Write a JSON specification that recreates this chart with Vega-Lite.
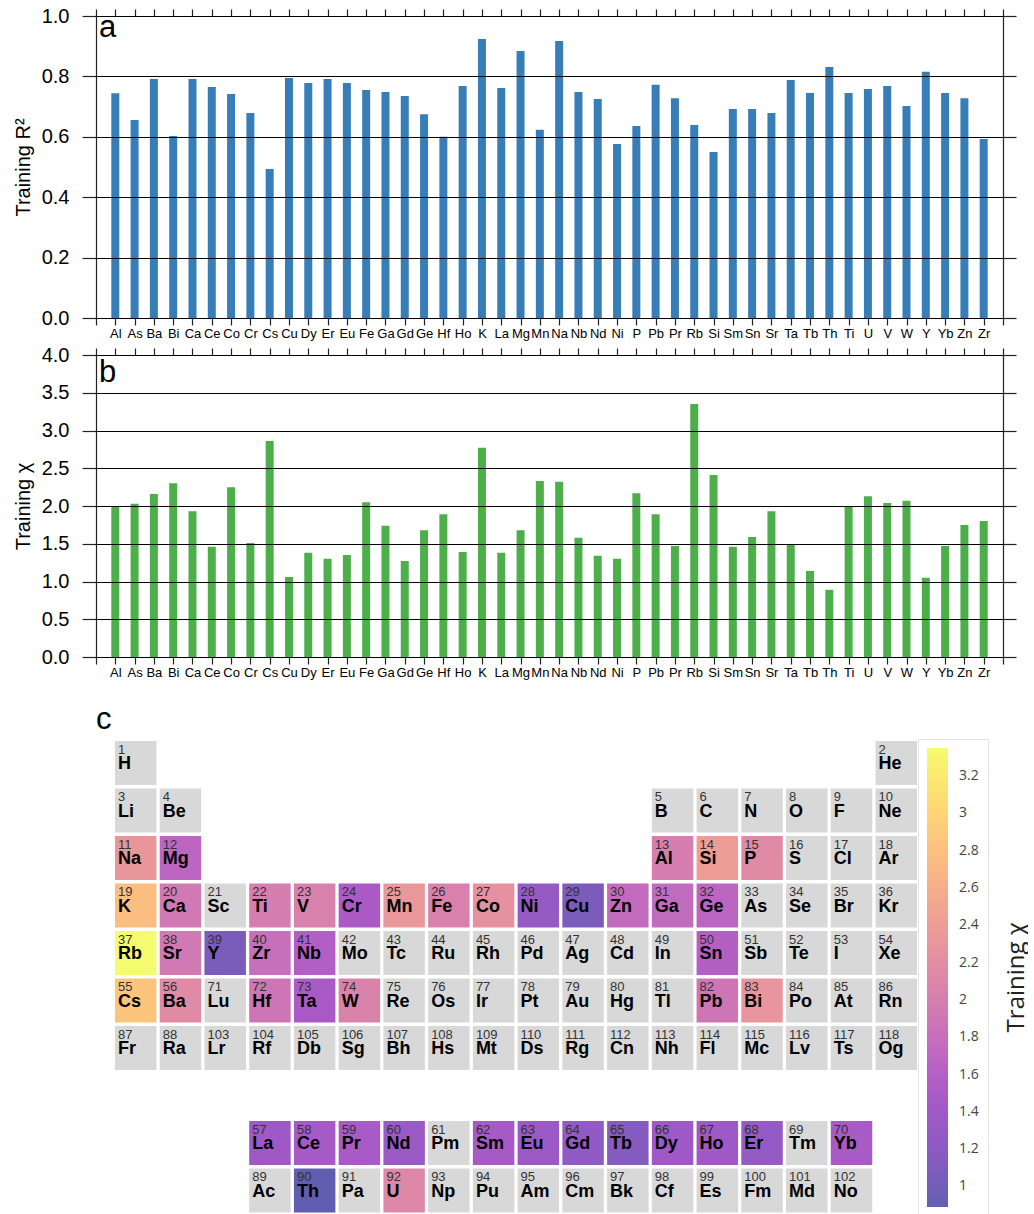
{
  "$schema": "https://vega.github.io/schema/vega-lite/v6.json",
  "background": "white",
  "padding": {"left": 13, "top": 6, "right": 0, "bottom": 0},
  "autosize": {"type": "pad"},
  "spacing": 5,
  "config": {"view": {"stroke": null}, "font": "Liberation Sans"},
  "datasets": {
    "elements": [
      {"el": "Al", "r2": 0.744, "chi": 2.00},
      {"el": "As", "r2": 0.656, "chi": 2.03},
      {"el": "Ba", "r2": 0.791, "chi": 2.16},
      {"el": "Bi", "r2": 0.603, "chi": 2.30},
      {"el": "Ca", "r2": 0.791, "chi": 1.93},
      {"el": "Ce", "r2": 0.765, "chi": 1.46},
      {"el": "Co", "r2": 0.742, "chi": 2.25},
      {"el": "Cr", "r2": 0.679, "chi": 1.51},
      {"el": "Cs", "r2": 0.493, "chi": 2.86},
      {"el": "Cu", "r2": 0.795, "chi": 1.06},
      {"el": "Dy", "r2": 0.778, "chi": 1.38},
      {"el": "Er", "r2": 0.791, "chi": 1.30},
      {"el": "Eu", "r2": 0.778, "chi": 1.35},
      {"el": "Fe", "r2": 0.755, "chi": 2.05},
      {"el": "Ga", "r2": 0.748, "chi": 1.74},
      {"el": "Gd", "r2": 0.735, "chi": 1.27},
      {"el": "Ge", "r2": 0.675, "chi": 1.68},
      {"el": "Hf", "r2": 0.600, "chi": 1.89},
      {"el": "Ho", "r2": 0.768, "chi": 1.39},
      {"el": "K", "r2": 0.924, "chi": 2.77},
      {"el": "La", "r2": 0.762, "chi": 1.38},
      {"el": "Mg", "r2": 0.884, "chi": 1.68},
      {"el": "Mn", "r2": 0.623, "chi": 2.33},
      {"el": "Na", "r2": 0.917, "chi": 2.32},
      {"el": "Nb", "r2": 0.748, "chi": 1.58},
      {"el": "Nd", "r2": 0.725, "chi": 1.34},
      {"el": "Ni", "r2": 0.576, "chi": 1.30},
      {"el": "P", "r2": 0.636, "chi": 2.17},
      {"el": "Pb", "r2": 0.772, "chi": 1.89},
      {"el": "Pr", "r2": 0.728, "chi": 1.47},
      {"el": "Rb", "r2": 0.639, "chi": 3.35},
      {"el": "Si", "r2": 0.550, "chi": 2.41},
      {"el": "Sm", "r2": 0.692, "chi": 1.46},
      {"el": "Sn", "r2": 0.692, "chi": 1.59},
      {"el": "Sr", "r2": 0.679, "chi": 1.93},
      {"el": "Ta", "r2": 0.788, "chi": 1.49},
      {"el": "Tb", "r2": 0.745, "chi": 1.14},
      {"el": "Th", "r2": 0.831, "chi": 0.89},
      {"el": "Ti", "r2": 0.745, "chi": 2.00},
      {"el": "U", "r2": 0.758, "chi": 2.13},
      {"el": "V", "r2": 0.768, "chi": 2.04},
      {"el": "W", "r2": 0.702, "chi": 2.07},
      {"el": "Y", "r2": 0.815, "chi": 1.05},
      {"el": "Yb", "r2": 0.745, "chi": 1.47},
      {"el": "Zn", "r2": 0.728, "chi": 1.75},
      {"el": "Zr", "r2": 0.593, "chi": 1.80}
    ],
    "ptable": [
      {"z": 1, "s": "H", "g": 1, "p": 1},
      {"z": 2, "s": "He", "g": 18, "p": 1},
      {"z": 3, "s": "Li", "g": 1, "p": 2},
      {"z": 4, "s": "Be", "g": 2, "p": 2},
      {"z": 5, "s": "B", "g": 13, "p": 2},
      {"z": 6, "s": "C", "g": 14, "p": 2},
      {"z": 7, "s": "N", "g": 15, "p": 2},
      {"z": 8, "s": "O", "g": 16, "p": 2},
      {"z": 9, "s": "F", "g": 17, "p": 2},
      {"z": 10, "s": "Ne", "g": 18, "p": 2},
      {"z": 11, "s": "Na", "g": 1, "p": 3, "chi": 2.32},
      {"z": 12, "s": "Mg", "g": 2, "p": 3, "chi": 1.68},
      {"z": 13, "s": "Al", "g": 13, "p": 3, "chi": 2.00},
      {"z": 14, "s": "Si", "g": 14, "p": 3, "chi": 2.41},
      {"z": 15, "s": "P", "g": 15, "p": 3, "chi": 2.17},
      {"z": 16, "s": "S", "g": 16, "p": 3},
      {"z": 17, "s": "Cl", "g": 17, "p": 3},
      {"z": 18, "s": "Ar", "g": 18, "p": 3},
      {"z": 19, "s": "K", "g": 1, "p": 4, "chi": 2.77},
      {"z": 20, "s": "Ca", "g": 2, "p": 4, "chi": 1.93},
      {"z": 21, "s": "Sc", "g": 3, "p": 4},
      {"z": 22, "s": "Ti", "g": 4, "p": 4, "chi": 2.00},
      {"z": 23, "s": "V", "g": 5, "p": 4, "chi": 2.04},
      {"z": 24, "s": "Cr", "g": 6, "p": 4, "chi": 1.51},
      {"z": 25, "s": "Mn", "g": 7, "p": 4, "chi": 2.33},
      {"z": 26, "s": "Fe", "g": 8, "p": 4, "chi": 2.05},
      {"z": 27, "s": "Co", "g": 9, "p": 4, "chi": 2.25},
      {"z": 28, "s": "Ni", "g": 10, "p": 4, "chi": 1.30},
      {"z": 29, "s": "Cu", "g": 11, "p": 4, "chi": 1.06},
      {"z": 30, "s": "Zn", "g": 12, "p": 4, "chi": 1.75},
      {"z": 31, "s": "Ga", "g": 13, "p": 4, "chi": 1.74},
      {"z": 32, "s": "Ge", "g": 14, "p": 4, "chi": 1.68},
      {"z": 33, "s": "As", "g": 15, "p": 4},
      {"z": 34, "s": "Se", "g": 16, "p": 4},
      {"z": 35, "s": "Br", "g": 17, "p": 4},
      {"z": 36, "s": "Kr", "g": 18, "p": 4},
      {"z": 37, "s": "Rb", "g": 1, "p": 5, "chi": 3.35},
      {"z": 38, "s": "Sr", "g": 2, "p": 5, "chi": 1.93},
      {"z": 39, "s": "Y", "g": 3, "p": 5, "chi": 1.05},
      {"z": 40, "s": "Zr", "g": 4, "p": 5, "chi": 1.80},
      {"z": 41, "s": "Nb", "g": 5, "p": 5, "chi": 1.58},
      {"z": 42, "s": "Mo", "g": 6, "p": 5},
      {"z": 43, "s": "Tc", "g": 7, "p": 5},
      {"z": 44, "s": "Ru", "g": 8, "p": 5},
      {"z": 45, "s": "Rh", "g": 9, "p": 5},
      {"z": 46, "s": "Pd", "g": 10, "p": 5},
      {"z": 47, "s": "Ag", "g": 11, "p": 5},
      {"z": 48, "s": "Cd", "g": 12, "p": 5},
      {"z": 49, "s": "In", "g": 13, "p": 5},
      {"z": 50, "s": "Sn", "g": 14, "p": 5, "chi": 1.59},
      {"z": 51, "s": "Sb", "g": 15, "p": 5},
      {"z": 52, "s": "Te", "g": 16, "p": 5},
      {"z": 53, "s": "I", "g": 17, "p": 5},
      {"z": 54, "s": "Xe", "g": 18, "p": 5},
      {"z": 55, "s": "Cs", "g": 1, "p": 6, "chi": 2.86},
      {"z": 56, "s": "Ba", "g": 2, "p": 6, "chi": 2.16},
      {"z": 71, "s": "Lu", "g": 3, "p": 6},
      {"z": 72, "s": "Hf", "g": 4, "p": 6, "chi": 1.89},
      {"z": 73, "s": "Ta", "g": 5, "p": 6, "chi": 1.49},
      {"z": 74, "s": "W", "g": 6, "p": 6, "chi": 2.07},
      {"z": 75, "s": "Re", "g": 7, "p": 6},
      {"z": 76, "s": "Os", "g": 8, "p": 6},
      {"z": 77, "s": "Ir", "g": 9, "p": 6},
      {"z": 78, "s": "Pt", "g": 10, "p": 6},
      {"z": 79, "s": "Au", "g": 11, "p": 6},
      {"z": 80, "s": "Hg", "g": 12, "p": 6},
      {"z": 81, "s": "Tl", "g": 13, "p": 6},
      {"z": 82, "s": "Pb", "g": 14, "p": 6, "chi": 1.89},
      {"z": 83, "s": "Bi", "g": 15, "p": 6, "chi": 2.30},
      {"z": 84, "s": "Po", "g": 16, "p": 6},
      {"z": 85, "s": "At", "g": 17, "p": 6},
      {"z": 86, "s": "Rn", "g": 18, "p": 6},
      {"z": 87, "s": "Fr", "g": 1, "p": 7},
      {"z": 88, "s": "Ra", "g": 2, "p": 7},
      {"z": 103, "s": "Lr", "g": 3, "p": 7},
      {"z": 104, "s": "Rf", "g": 4, "p": 7},
      {"z": 105, "s": "Db", "g": 5, "p": 7},
      {"z": 106, "s": "Sg", "g": 6, "p": 7},
      {"z": 107, "s": "Bh", "g": 7, "p": 7},
      {"z": 108, "s": "Hs", "g": 8, "p": 7},
      {"z": 109, "s": "Mt", "g": 9, "p": 7},
      {"z": 110, "s": "Ds", "g": 10, "p": 7},
      {"z": 111, "s": "Rg", "g": 11, "p": 7},
      {"z": 112, "s": "Cn", "g": 12, "p": 7},
      {"z": 113, "s": "Nh", "g": 13, "p": 7},
      {"z": 114, "s": "Fl", "g": 14, "p": 7},
      {"z": 115, "s": "Mc", "g": 15, "p": 7},
      {"z": 116, "s": "Lv", "g": 16, "p": 7},
      {"z": 117, "s": "Ts", "g": 17, "p": 7},
      {"z": 118, "s": "Og", "g": 18, "p": 7},
      {"z": 57, "s": "La", "g": 4, "p": 9, "chi": 1.38},
      {"z": 58, "s": "Ce", "g": 5, "p": 9, "chi": 1.46},
      {"z": 59, "s": "Pr", "g": 6, "p": 9, "chi": 1.47},
      {"z": 60, "s": "Nd", "g": 7, "p": 9, "chi": 1.34},
      {"z": 61, "s": "Pm", "g": 8, "p": 9},
      {"z": 62, "s": "Sm", "g": 9, "p": 9, "chi": 1.46},
      {"z": 63, "s": "Eu", "g": 10, "p": 9, "chi": 1.35},
      {"z": 64, "s": "Gd", "g": 11, "p": 9, "chi": 1.27},
      {"z": 65, "s": "Tb", "g": 12, "p": 9, "chi": 1.14},
      {"z": 66, "s": "Dy", "g": 13, "p": 9, "chi": 1.38},
      {"z": 67, "s": "Ho", "g": 14, "p": 9, "chi": 1.39},
      {"z": 68, "s": "Er", "g": 15, "p": 9, "chi": 1.30},
      {"z": 69, "s": "Tm", "g": 16, "p": 9},
      {"z": 70, "s": "Yb", "g": 17, "p": 9, "chi": 1.47},
      {"z": 89, "s": "Ac", "g": 4, "p": 10},
      {"z": 90, "s": "Th", "g": 5, "p": 10, "chi": 0.89},
      {"z": 91, "s": "Pa", "g": 6, "p": 10},
      {"z": 92, "s": "U", "g": 7, "p": 10, "chi": 2.13},
      {"z": 93, "s": "Np", "g": 8, "p": 10},
      {"z": 94, "s": "Pu", "g": 9, "p": 10},
      {"z": 95, "s": "Am", "g": 10, "p": 10},
      {"z": 96, "s": "Cm", "g": 11, "p": 10},
      {"z": 97, "s": "Bk", "g": 12, "p": 10},
      {"z": 98, "s": "Cf", "g": 13, "p": 10},
      {"z": 99, "s": "Es", "g": 14, "p": 10},
      {"z": 100, "s": "Fm", "g": 15, "p": 10},
      {"z": 101, "s": "Md", "g": 16, "p": 10},
      {"z": 102, "s": "No", "g": 17, "p": 10}
    ]
  },
  "vconcat": [
    {
      "width": 907,
      "height": 302,
      "data": {"name": "elements"},
      "layer": [
        {
          "mark": {"type": "bar", "width": 8, "color": "#377eb8"},
          "encoding": {
            "x": {
              "field": "el", "type": "ordinal", "sort": null,
              "scale": {"type": "point", "padding": 0, "domain": [" ", "Al","As","Ba","Bi","Ca","Ce","Co","Cr","Cs","Cu","Dy","Er","Eu","Fe","Ga","Gd","Ge","Hf","Ho","K","La","Mg","Mn","Na","Nb","Nd","Ni","P","Pb","Pr","Rb","Si","Sm","Sn","Sr","Ta","Tb","Th","Ti","U","V","W","Y","Yb","Zn","Zr", "  "]},
              "axis": {"orient": "bottom", "title": null, "labelAngle": 0, "labelFontSize": 13, "labelColor": "#000", "labelPadding": 2, "labelOverlap": false, "tickSize": 7, "tickColor": "#222", "tickWidth": 1.2, "domainColor": "#222", "domainWidth": 1.2, "grid": false}
            },
            "y": {
              "field": "r2", "type": "quantitative",
              "scale": {"domain": [0, 1], "nice": false},
              "axis": {"orient": "left", "title": "Training R²", "values": [0, 0.2, 0.4, 0.6, 0.8, 1.0], "format": ".1f", "zindex": 1, "grid": true, "gridColor": "#000", "gridWidth": 1, "gridOpacity": 1, "tickSize": 14, "tickColor": "#222", "tickWidth": 1.2, "domainColor": "#222", "domainWidth": 1.2, "labelFontSize": 20, "labelPadding": 13, "labelColor": "#000", "titleFontSize": 20, "titleFontWeight": "normal", "titleColor": "#000", "titlePadding": 8}
            }
          }
        },
        {
          "data": {"values": [{}]},
          "mark": {"type": "text", "text": "a", "align": "left", "baseline": "alphabetic", "dx": 3, "dy": 21, "fontSize": 31, "color": "#000"},
          "encoding": {
            "x": {"datum": " ", "type": "ordinal", "axis": {"orient": "top", "title": null, "labels": false, "tickSize": 7, "tickColor": "#222", "tickWidth": 1.2, "domainColor": "#222", "domainWidth": 1.2, "grid": false}},
            "y": {"datum": 1, "type": "quantitative", "axis": {"orient": "right", "title": null, "labels": false, "values": [0, 0.2, 0.4, 0.6, 0.8, 1.0], "tickSize": 13, "tickColor": "#222", "tickWidth": 1.2, "domainColor": "#222", "domainWidth": 1.2, "grid": false}}
          }
        }
      ],
      "resolve": {"axis": {"x": "independent", "y": "independent"}}
    },
    {
      "width": 907,
      "height": 302,
      "data": {"name": "elements"},
      "layer": [
        {
          "mark": {"type": "bar", "width": 8, "color": "#4daf4a"},
          "encoding": {
            "x": {
              "field": "el", "type": "ordinal", "sort": null,
              "scale": {"type": "point", "padding": 0, "domain": [" ", "Al","As","Ba","Bi","Ca","Ce","Co","Cr","Cs","Cu","Dy","Er","Eu","Fe","Ga","Gd","Ge","Hf","Ho","K","La","Mg","Mn","Na","Nb","Nd","Ni","P","Pb","Pr","Rb","Si","Sm","Sn","Sr","Ta","Tb","Th","Ti","U","V","W","Y","Yb","Zn","Zr", "  "]},
              "axis": {"orient": "bottom", "title": null, "labelAngle": 0, "labelFontSize": 13, "labelColor": "#000", "labelPadding": 2, "labelOverlap": false, "tickSize": 7, "tickColor": "#222", "tickWidth": 1.2, "domainColor": "#222", "domainWidth": 1.2, "grid": false}
            },
            "y": {
              "field": "chi", "type": "quantitative",
              "scale": {"domain": [0, 4], "nice": false},
              "axis": {"orient": "left", "title": "Training χ", "values": [0, 0.5, 1.0, 1.5, 2.0, 2.5, 3.0, 3.5, 4.0], "format": ".1f", "zindex": 1, "grid": true, "gridColor": "#000", "gridWidth": 1, "gridOpacity": 1, "tickSize": 14, "tickColor": "#222", "tickWidth": 1.2, "domainColor": "#222", "domainWidth": 1.2, "labelFontSize": 20, "labelPadding": 13, "labelColor": "#000", "titleFontSize": 20, "titleFontWeight": "normal", "titleColor": "#000", "titlePadding": 8}
            }
          }
        },
        {
          "data": {"values": [{}]},
          "mark": {"type": "text", "text": "b", "align": "left", "baseline": "alphabetic", "dx": 3, "dy": 27, "fontSize": 31, "color": "#000"},
          "encoding": {
            "x": {"datum": " ", "type": "ordinal", "axis": {"orient": "top", "title": null, "labels": false, "tickSize": 7, "tickColor": "#222", "tickWidth": 1.2, "domainColor": "#222", "domainWidth": 1.2, "grid": false}},
            "y": {"datum": 4, "type": "quantitative", "axis": {"orient": "right", "title": null, "labels": false, "values": [0, 0.5, 1.0, 1.5, 2.0, 2.5, 3.0, 3.5, 4.0], "tickSize": 13, "tickColor": "#222", "tickWidth": 1.2, "domainColor": "#222", "domainWidth": 1.2, "grid": false}}
          }
        }
      ],
      "resolve": {"axis": {"x": "independent", "y": "independent"}}
    },
    {
      "width": 821,
      "height": 471.5,
      "data": {"name": "ptable"},
      "title": {"text": ["", "c"], "anchor": "start", "frame": "group", "fontSize": 31, "fontWeight": "normal", "font": "Liberation Sans", "color": "#000", "baseline": "alphabetic", "lineHeight": 20, "offset": -19},
      "encoding": {
        "x": {"field": "g", "type": "ordinal", "scale": {"type": "band", "domain": [1,2,3,4,5,6,7,8,9,10,11,12,13,14,15,16,17,18], "paddingInner": 0.073, "paddingOuter": 0.212, "align": 1}, "axis": null},
        "y": {"field": "p", "type": "ordinal", "scale": {"type": "band", "domain": [1,2,3,4,5,6,7,8,9,10], "paddingInner": 0.074, "paddingOuter": 0}, "axis": {"orient": "right", "title": "Training χ", "labels": false, "ticks": false, "domain": false, "grid": false, "titleAngle": 270, "titleBaseline": "top", "titlePadding": 87, "titleFontSize": 24, "titleFont": "Open Sans", "titleFontWeight": "normal", "titleColor": "#222"}}
      },
      "layer": [
        {
          "transform": [{"filter": "!isValid(datum.chi)"}],
          "mark": {"type": "rect", "color": "#d8d8d8"}
        },
        {
          "transform": [{"filter": "isValid(datum.chi)"}],
          "mark": {"type": "rect", "opacity": 0.65},
          "encoding": {
            "color": {
              "field": "chi", "type": "quantitative",
              "scale": {"scheme": "plasma"},
              "legend": {"orient": "none", "legendX": 822, "legendY": 723, "title": null, "direction": "vertical", "gradientLength": 459, "gradientThickness": 21, "gradientOpacity": 0.65, "gradientStrokeWidth": 0, "values": [1, 1.2, 1.4, 1.6, 1.8, 2, 2.2, 2.4, 2.6, 2.8, 3, 3.2], "format": ".1~f", "labelFont": "Open Sans", "labelFontSize": 14, "labelColor": "#444", "labelOffset": 11, "labelOverlap": false, "labelFlush": false, "padding": 9, "strokeColor": "#e4e4e4"}
            }
          }
        },
        {
          "mark": {"type": "text", "align": "left", "baseline": "alphabetic", "dx": 3, "dy": -9.4, "fontSize": 13, "color": "#333"},
          "encoding": {
            "x": {"field": "g", "type": "ordinal", "bandPosition": 0, "axis": null},
            "text": {"field": "z"}
          }
        },
        {
          "mark": {"type": "text", "align": "left", "baseline": "alphabetic", "dx": 3, "dy": 6.3, "fontSize": 18, "fontWeight": "bold", "color": "#000"},
          "encoding": {
            "x": {"field": "g", "type": "ordinal", "bandPosition": 0, "axis": null},
            "text": {"field": "s"}
          }
        }
      ]
    }
  ]
}
